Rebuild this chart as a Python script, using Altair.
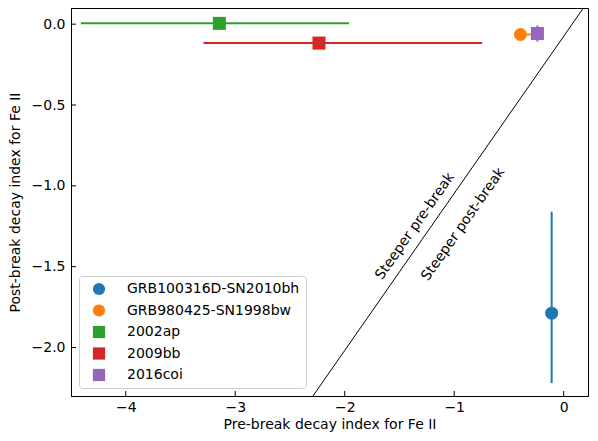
import altair as alt
import pandas as pd

names = ["GRB100316D-SN2010bh", "GRB980425-SN1998bw", "2002ap", "2009bb", "2016coi"]
colors = ["#1f77b4", "#ff7f0e", "#2ca02c", "#d62728", "#9467bd"]
shapes = ["circle", "circle", "square", "square", "square"]
pre_break = [-0.11, -0.395, -3.145, -2.235, -0.24]
post_break = [-1.788, -0.064, 0.005, -0.117, -0.058]
pre_low = [-0.11, -0.41, -4.41, -3.29, -0.24]
pre_high = [-0.11, -0.30, -1.96, -0.745, -0.24]
post_low = [-2.22, -0.064, 0.005, -0.117, -0.108]
post_high = [-1.16, -0.064, 0.005, -0.117, -0.008]

x_ticks = [-4, -3, -2, -1, 0]
y_ticks = [-2.0, -1.5, -1.0, -0.5, 0.0]
x_domain = [-4.5, 0.222]
y_domain = [-2.3, 0.1]
diag_x = [-2.29, 0.18]
diag_y = [-2.3, 0.1]
notes = ["Steeper pre-break", "Steeper post-break"]
note_x = [-1.358, -0.918]
note_y = [-1.25, -1.238]

X_TITLE = "Pre-break decay index for Fe II"
Y_TITLE = "Post-break decay index for Fe II"
FONT = "DejaVu Sans"
W, H = 517, 388

df = pd.DataFrame({
    "name": names, "col": colors, "x": pre_break, "y": post_break,
    "xlo": pre_low, "xhi": pre_high, "ylo": post_low, "yhi": post_high,
})
diag = pd.DataFrame({"x": diag_x, "y": diag_y})
txt = pd.DataFrame({"x": note_x, "y": note_y, "t": notes})
xt = pd.DataFrame({"x": x_ticks})
yt = pd.DataFrame({"y": y_ticks})

minus = "replace(datum.label, '-', '\u2212')"


def X(field):
    return alt.X(field, type="quantitative",
                 scale=alt.Scale(domain=x_domain, nice=False, zero=False),
                 axis=alt.Axis(values=x_ticks, tickSize=0, grid=False, format="d",
                               labelExpr=minus, title=X_TITLE, labelPadding=4,
                               titlePadding=3))


def Y(field):
    return alt.Y(field, type="quantitative",
                 scale=alt.Scale(domain=y_domain, nice=False, zero=False),
                 axis=alt.Axis(values=y_ticks, tickSize=0, grid=False, format=".1f",
                               labelExpr=minus, title=Y_TITLE, labelPadding=6,
                               titlePadding=9))


legend = alt.Legend(title=None, orient="bottom-left", offset=8,
                    padding=6, fillColor="white", strokeColor="#cccccc",
                    cornerRadius=3, labelFontSize=14, labelFont=FONT, labelLimit=400,
                    symbolSize=150, rowPadding=7.5, symbolOffset=7, labelOffset=21)

color_leg = alt.Color("name:N", scale=alt.Scale(domain=names, range=colors), legend=legend)
shape_leg = alt.Shape("name:N", scale=alt.Scale(domain=names, range=shapes), legend=legend)
stroke_id = alt.Stroke("col:N", scale=None)

diag_layer = alt.Chart(diag).mark_line(color="black", strokeWidth=1, clip=True).encode(
    x=X("x"), y=Y("y"))

text_layer = alt.Chart(txt).mark_text(angle=305, fontSize=14, font=FONT, color="black",
                                      align="center", baseline="middle").encode(
    x=X("x"), y=Y("y"), text="t:N")

hbar = alt.Chart(df).mark_rule(strokeWidth=2).encode(
    x=X("xlo"), x2="xhi:Q", y=Y("y"), stroke=stroke_id)

vbar = alt.Chart(df).mark_rule(strokeWidth=2).encode(
    x=X("x"), y=Y("ylo"), y2="yhi:Q", stroke=stroke_id)

pts = alt.Chart(df).mark_point(filled=True, opacity=1, size=170).encode(
    x=X("x"), y=Y("y"), color=color_leg, shape=shape_leg)

xtick_layer = alt.Chart(xt).mark_rule(color="black", strokeWidth=1).encode(
    x=X("x"), y=alt.value(H), y2=alt.value(H - 5))

ytick_layer = alt.Chart(yt).mark_rule(color="black", strokeWidth=1).encode(
    y=Y("y"), x=alt.value(0), x2=alt.value(5))

chart = alt.layer(diag_layer, text_layer, hbar, vbar, pts, xtick_layer, ytick_layer).properties(
    width=W, height=H,
    autosize=alt.AutoSizeParams(type="none"),
    padding={"left": 63, "top": 0, "right": 1, "bottom": 36},
).configure(font=FONT).configure_view(
    stroke="black", strokeWidth=1
).configure_axis(
    labelFontSize=14, titleFontSize=14, labelFont=FONT, titleFont=FONT,
    labelColor="black", titleColor="black", titleFontWeight="normal",
    domainColor="black", domainWidth=1,
)

chart.save("out.html", embed_options={"renderer": "svg", "actions": False})
